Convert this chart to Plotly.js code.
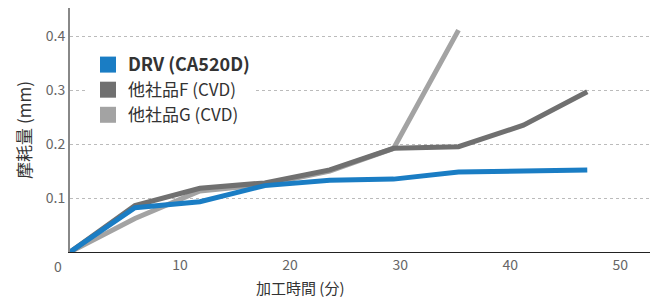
<!DOCTYPE html>
<html><head><meta charset="utf-8">
<script src="https://cdn.plot.ly/plotly-3.0.1.min.js"></script>
<style>body{margin:0;background:#fff}#c{width:650px;height:298px}</style>
</head><body><div id="c"></div>
<script>
const timeMin = [0, 5.9, 11.8, 17.7, 23.6, 29.4, 35.3, 41.2, 47.0];
const wearDRV = [0, 0.082, 0.093, 0.123, 0.133, 0.135, 0.148, 0.150, 0.152];
const wearF   = [0, 0.086, 0.118, 0.128, 0.152, 0.192, 0.195, 0.235, 0.297];
const timeG   = [0, 5.9, 11.8, 17.7, 23.6, 29.4, 35.3];
const wearG   = [0, 0.062, 0.113, 0.125, 0.150, 0.192, 0.411];
const names = ['<b><span style="font-size:18px">DRV (CA520D)</span></b>', '他社品F (CVD)', '他社品G (CVD)'];
const colors = ['#1a7dc4', '#707070', '#a3a3a3'];
const xTicks = [10, 20, 30, 40, 50];
const yTicks = [0.1, 0.2, 0.3, 0.4];

const font = 'Noto Sans CJK JP, Noto Sans, sans-serif';
const lineTraces = [
  {x: timeG, y: wearG, color: colors[2]},
  {x: timeMin, y: wearF, color: colors[1]},
  {x: timeMin, y: wearDRV, color: colors[0]}
].map(t => ({x: t.x, y: t.y, mode: 'lines', type: 'scatter', showlegend: false,
  hoverinfo: 'skip', line: {color: t.color, width: 5}}));
const legendTraces = names.map((n, i) => ({x: [null], y: [null], mode: 'markers', type: 'scatter',
  name: n, marker: {symbol: 'square', size: 16, color: colors[i]}}));

Plotly.newPlot('c', [...lineTraces, ...legendTraces], {
  width: 650, height: 298,
  margin: {l: 70, r: 0, t: 8, b: 46},
  paper_bgcolor: '#fff', plot_bgcolor: '#fff',
  font: {family: font, color: '#555', size: 13},
  xaxis: {range: [0, 52.7], tickvals: xTicks, showgrid: false, zeroline: false,
    showline: true, linecolor: '#222', linewidth: 1, ticks: '',
    tickfont: {size: 14, color: '#666'}},
  yaxis: {range: [0, 0.452], tickvals: yTicks, showgrid: true, gridcolor: '#bbb',
    griddash: 'dot', gridwidth: 1, zeroline: false, showline: true, linecolor: '#888',
    linewidth: 2, ticks: '', tickfont: {size: 14, color: '#666'},
    title: {text: '摩耗量 (mm)', font: {size: 17, color: '#333'}, standoff: 10}},
  legend: {x: 0.031, y: 0.84, xanchor: 'left', yanchor: 'top', bgcolor: '#fff',
    font: {family: font, size: 17, color: '#333'}, tracegroupgap: 0},
  annotations: [
    {x: 0, y: 0, xref: 'x', yref: 'y', text: '0', showarrow: false,
     xshift: -12, yshift: -14, font: {size: 14, color: '#666'}},
    {x: 0.398, y: 0, xref: 'paper', yref: 'paper', text: '加工時間 (分)', showarrow: false,
     yanchor: 'middle', yshift: -35, font: {size: 15, color: '#333'}}
  ]
}, {displayModeBar: false, staticPlot: true});
</script></body></html>
